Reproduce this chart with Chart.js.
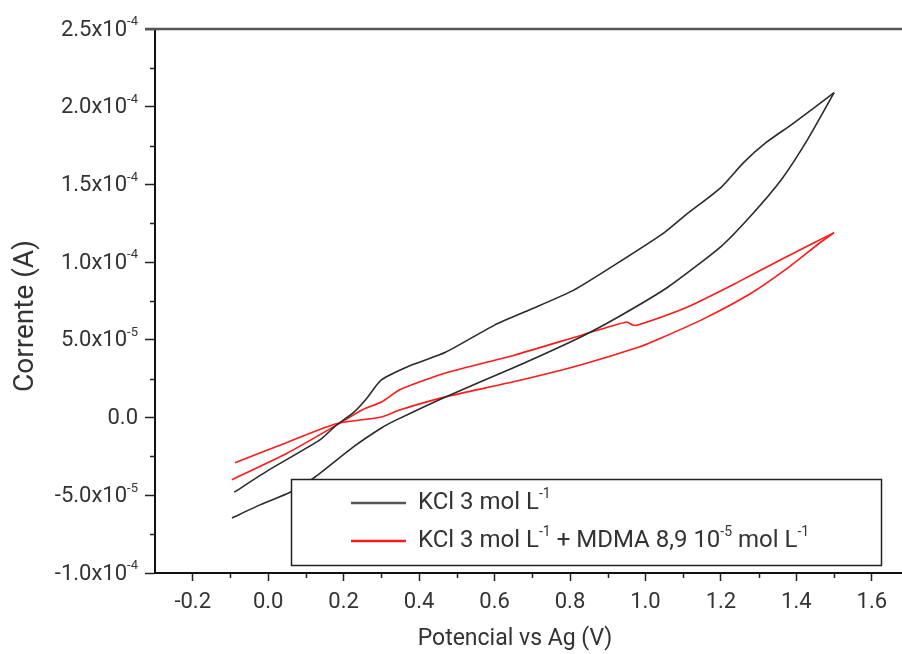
<!DOCTYPE html>
<html>
<head>
<meta charset="utf-8">
<script src="https://cdn.jsdelivr.net/npm/chart.js@4.4.1/dist/chart.umd.min.js"></script>
<style>
  html, body { margin: 0; padding: 0; background: #fff; overflow: hidden; }
</style>
</head>
<body>
<canvas id="cv-chart" width="902" height="654"></canvas>
<script>
// Cyclic voltammograms (potential in V, current in A)
// KCl 3 mol/L, forward scan then reverse scan
const kclFwdPotential = [-0.09, 0.0, 0.137, 0.18, 0.225, 0.26, 0.30, 0.38, 0.47, 0.60, 0.69, 0.81, 0.93, 1.05, 1.11, 1.20, 1.26, 1.32, 1.39, 1.50];
const kclFwdCurrent = [-4.8e-5, -3.4e-5, -1.44e-5, -0.5e-5, 0.3e-5, 1.2e-5, 2.42e-5, 3.38e-5, 4.2e-5, 5.95e-5, 6.9e-5, 8.2e-5, 10.0e-5, 11.9e-5, 13.1e-5, 14.8e-5, 16.4e-5, 17.7e-5, 18.9e-5, 20.9e-5];
const kclRevPotential = [1.50, 1.43, 1.36, 1.28, 1.20, 1.06, 0.93, 0.83, 0.65, 0.47, 0.34, 0.30, 0.225, 0.12, 0.058, -0.02, -0.096];
const kclRevCurrent = [20.9e-5, 17.9e-5, 15.3e-5, 13.0e-5, 11.0e-5, 8.4e-5, 6.5e-5, 5.2e-5, 3.2e-5, 1.33e-5, -0.15e-5, -0.67e-5, -1.9e-5, -3.9e-5, -4.8e-5, -5.6e-5, -6.46e-5];

// KCl + MDMA, forward scan then reverse scan
const mdmaFwdPotential = [-0.096, 0.05, 0.18, 0.25, 0.30, 0.35, 0.47, 0.65, 0.83, 0.95, 0.966, 0.98, 1.11, 1.24, 1.37, 1.50];
const mdmaFwdCurrent = [-4.0e-5, -2.3e-5, -0.5e-5, 0.5e-5, 1.0e-5, 1.8e-5, 2.87e-5, 4.0e-5, 5.3e-5, 6.15e-5, 5.95e-5, 5.95e-5, 7.1e-5, 8.65e-5, 10.3e-5, 11.9e-5];
const mdmaRevPotential = [1.50, 1.46, 1.37, 1.28, 1.15, 1.04, 0.985, 0.83, 0.65, 0.47, 0.35, 0.30, 0.18, 0.05, -0.088];
const mdmaRevCurrent = [11.9e-5, 11.2e-5, 9.5e-5, 8.0e-5, 6.3e-5, 5.1e-5, 4.55e-5, 3.4e-5, 2.3e-5, 1.33e-5, 0.5e-5, 0.04e-5, -0.4e-5, -1.6e-5, -2.9e-5];

const seriesLabels = ["KCl 3 mol L^{-1}", "KCl 3 mol L^{-1} + MDMA 8,9 10^{-5} mol L^{-1}"];
const seriesColors = ["#2b2b2b", "#ff1a1a"];

const yTickValues = [-1.0e-4, -5.0e-5, 0, 5.0e-5, 1.0e-4, 1.5e-4, 2.0e-4, 2.5e-4];
const yTickText = ["-1.0x10^{-4}", "-5.0x10^{-5}", "0.0", "5.0x10^{-5}", "1.0x10^{-4}", "1.5x10^{-4}", "2.0x10^{-4}", "2.5x10^{-4}"];

const xTitle = "Potencial vs Ag (V)";
const yTitle = "Corrente (A)";

const textColor = "#333";
const fontFamily = "Roboto, 'Liberation Sans', sans-serif";

function isMajorX(v) {
  return Math.abs(v * 5 - Math.round(v * 5)) < 1e-6;
}
function isMajorY(v) {
  return Math.abs(v / 5e-5 - Math.round(v / 5e-5)) < 1e-6;
}

function toPoints(xs, ys) {
  return xs.map((x, i) => ({ x: x, y: ys[i] }));
}

// text with ^{...} superscripts
function drawRich(ctx, str, x, y, size, align) {
  const parts = str.split(/\^\{([^}]*)\}/);
  const supSize = Math.round(size * 0.6);
  let width = 0;
  parts.forEach((p, i) => {
    ctx.font = (i % 2 ? supSize : size) + "px " + fontFamily;
    width += ctx.measureText(p).width;
  });
  let cx = align === "right" ? x - width : x;
  ctx.textAlign = "left";
  ctx.textBaseline = "middle";
  parts.forEach((p, i) => {
    const sup = i % 2 === 1;
    ctx.font = (sup ? supSize : size) + "px " + fontFamily;
    ctx.fillText(p, cx, sup ? y - size * 0.36 : y);
    cx += ctx.measureText(p).width;
  });
}

function lineDataset(xs, ys, color) {
  return {
    data: toPoints(xs, ys),
    showLine: true,
    borderColor: color,
    borderWidth: 1.6,
    pointRadius: 0,
    tension: 0.2,
  };
}

// minor ticks, y labels, axis titles, top frame line and the boxed legend
const extrasPlugin = {
  id: "extras",
  afterDraw(chart) {
    const { ctx, chartArea, scales } = chart;
    ctx.save();
    ctx.strokeStyle = "#222";
    ctx.lineWidth = 1.5;
    ctx.beginPath();
    scales.x.ticks.forEach((t) => {
      if (isMajorX(t.value)) return;
      const px = Math.round(scales.x.getPixelForValue(t.value)) + 0.5;
      ctx.moveTo(px, chartArea.bottom);
      ctx.lineTo(px, chartArea.bottom + 5);
    });
    scales.y.ticks.forEach((t) => {
      if (isMajorY(t.value)) return;
      const py = Math.round(scales.y.getPixelForValue(t.value)) + 0.5;
      ctx.moveTo(chartArea.left, py);
      ctx.lineTo(chartArea.left - 5, py);
    });
    ctx.stroke();

    ctx.fillStyle = textColor;
    yTickValues.forEach((v, i) => {
      drawRich(ctx, yTickText[i], chartArea.left - 17, scales.y.getPixelForValue(v) + 1, 22, "right");
    });

    // axis titles
    ctx.textAlign = "center";
    ctx.textBaseline = "middle";
    ctx.font = "23px " + fontFamily;
    ctx.fillText(xTitle, chartArea.left + 360, chartArea.bottom + 66);
    ctx.save();
    ctx.translate(26, (chartArea.top + chartArea.bottom) / 2 + 15);
    ctx.rotate(-Math.PI / 2);
    ctx.font = "28px " + fontFamily;
    ctx.fillText(yTitle, 0, 0);
    ctx.restore();

    ctx.strokeStyle = "#555";
    ctx.lineWidth = 2.5;
    ctx.beginPath();
    ctx.moveTo(chartArea.left - 10, chartArea.top);
    ctx.lineTo(chartArea.right, chartArea.top);
    ctx.stroke();

    // legend
    const bx = chartArea.left + 136;
    const by = chartArea.bottom - 94;
    const bw = 590;
    const bh = 86;
    ctx.fillStyle = "#fff";
    ctx.fillRect(bx, by, bw, bh);
    ctx.strokeStyle = "#222";
    ctx.lineWidth = 1.5;
    ctx.strokeRect(bx + 0.5, by + 0.5, bw, bh);

    seriesLabels.forEach((label, i) => {
      const ly = by + 24 + i * 38;
      ctx.strokeStyle = i === 0 ? "#555" : seriesColors[i];
      ctx.lineWidth = 2.5;
      ctx.beginPath();
      ctx.moveTo(bx + 60, ly);
      ctx.lineTo(bx + 115, ly);
      ctx.stroke();
      ctx.fillStyle = textColor;
      drawRich(ctx, label, bx + 127, ly, 24, "left");
    });
    ctx.restore();
  },
};

const ctx = document.getElementById("cv-chart").getContext("2d");

new Chart(ctx, {
  type: "scatter",
  data: {
    datasets: [
      lineDataset(kclFwdPotential, kclFwdCurrent, seriesColors[0]),
      lineDataset(kclRevPotential, kclRevCurrent, seriesColors[0]),
      lineDataset(mdmaFwdPotential, mdmaFwdCurrent, seriesColors[1]),
      lineDataset(mdmaRevPotential, mdmaRevCurrent, seriesColors[1]),
    ],
  },
  options: {
    responsive: false,
    animation: false,
    devicePixelRatio: 1,
    layout: { padding: { top: 29, right: 0, left: 0, bottom: 0 } },
    plugins: {
      legend: { display: false },
      tooltip: { enabled: false },
    },
    scales: {
      x: {
        type: "linear",
        min: -0.3,
        max: 1.68,
        afterFit: (scale) => {
          scale.height = 81;
        },
        border: { color: "#111", width: 2 },
        grid: {
          drawOnChartArea: false,
          tickLength: 8,
          tickWidth: 1.5,
          tickColor: (c) => (c.tick && isMajorX(c.tick.value) ? "#222" : "rgba(0,0,0,0)"),
        },
        ticks: {
          stepSize: 0.1,
          includeBounds: false,
          autoSkip: false,
          maxRotation: 0,
          padding: 8,
          color: textColor,
          font: { family: fontFamily, size: 22 },
          callback: (v) => (isMajorX(v) ? Number(v).toFixed(1) : ""),
        },
      },
      y: {
        type: "linear",
        min: -1.0e-4,
        max: 2.5e-4,
        afterFit: (scale) => {
          scale.width = 155;
        },
        border: { color: "#111", width: 2 },
        grid: {
          drawOnChartArea: false,
          tickLength: 10,
          tickWidth: 1.5,
          tickColor: (c) => (c.tick && isMajorY(c.tick.value) ? "#222" : "rgba(0,0,0,0)"),
        },
        ticks: {
          stepSize: 2.5e-5,
          autoSkip: false,
          padding: 7,
          font: { family: fontFamily, size: 22 },
          callback: () => "",
        },
      },
    },
  },
  plugins: [extrasPlugin],
});
</script>
</body>
</html>
